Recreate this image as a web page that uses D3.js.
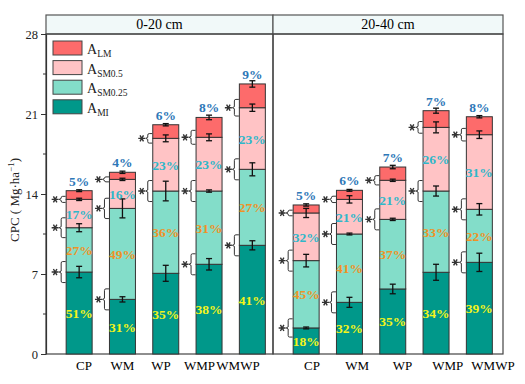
<!DOCTYPE html>
<html>
<head>
<meta charset="utf-8">
<script src="https://cdn.jsdelivr.net/npm/d3@7/dist/d3.min.js"></script>
<style>
  body { margin: 0; background: #fff; }
  text { font-family: "Liberation Serif", "DejaVu Serif", serif; }
</style>
</head>
<body>
<script>
// categories
let treatments = ["CP", "WM", "WP", "WMP", "WMWP"];
let depths = ["0-20 cm", "20-40 cm"];
let fractions = ["MI", "SM0.25", "SM0.5", "LM"];   // stacked bottom -> top
let legendOrder = ["LM", "SM0.5", "SM0.25", "MI"];
let yTicks = [0, 7, 14, 21, 28];

// CPC (Mg ha-1) per fraction, [depth][treatment]
let valMI   = [[7.17, 4.78, 7.06, 7.85, 9.51], [2.28, 4.52, 5.69, 7.15, 8.02]];
let valSM25 = [[3.88, 7.96, 7.20, 6.41, 6.65], [5.89, 5.98, 6.09, 7.11, 4.64]];
let valSM05 = [[2.48, 2.54, 4.61, 4.70, 5.39], [4.17, 3.03, 3.42, 5.57, 6.53]];
let valLM   = [[0.76, 0.62, 1.19, 1.74, 2.08], [0.70, 0.79, 1.16, 1.46, 1.57]];

// standard errors at segment tops
let errMI   = [[0.50, 0.23, 0.70, 0.50, 0.40], [0.08, 0.44, 0.42, 0.70, 0.80]];
let errSM25 = [[0.35, 0.83, 0.86, 0.10, 0.57], [0.55, 0.08, 0.10, 0.44, 0.50]];
let errSM05 = [[0.10, 0.10, 0.30, 0.30, 0.32], [0.40, 0.32, 0.10, 0.48, 0.33]];
let errLM   = [[0.08, 0.10, 0.10, 0.20, 0.28], [0.10, 0.08, 0.15, 0.22, 0.10]];

// percentage labels
let pctMI   = [["51%", "31%", "35%", "38%", "41%"], ["18%", "32%", "35%", "34%", "39%"]];
let pctSM25 = [["27%", "49%", "36%", "31%", "27%"], ["45%", "41%", "37%", "33%", "22%"]];
let pctSM05 = [["17%", "16%", "23%", "23%", "23%"], ["32%", "21%", "21%", "26%", "31%"]];
let pctLM   = [["5%", "4%", "6%", "8%", "9%"], ["5%", "6%", "7%", "7%", "8%"]];

// significance marks at boundaries MI|SM0.25, SM0.25|SM0.5, SM0.5|LM
let sig = [
  [[1, 1, 1], [1, 1, 1], [0, 1, 1], [1, 1, 1], [1, 1, 1]],
  [[1, 1, 1], [1, 1, 1], [0, 1, 1], [0, 1, 1], [1, 1, 1]]
];

let fill = {"LM": "#fd6b6b", "SM0.5": "#ffc3c5", "SM0.25": "#83ddc9", "MI": "#00988a"};
let pctColor = {"LM": "#2e78b8", "SM0.5": "#2fb7c9", "SM0.25": "#ef9226", "MI": "#f4f41a"};

let W = 525, H = 384;
let panels = [{x0: 46, w: 227, lab: [84, 238]}, {x0: 273, w: 230, lab: [312, 493]}];
let plotTop = 34, stripTop = 15, plotBottom = 354;

let svg = d3.select("body").append("svg")
    .attr("width", W)
    .attr("height", H);

let y = d3.scaleLinear().domain([0, 28]).range([plotBottom, plotTop]);
let star = d3.symbol(d3.symbolAsterisk, 34);

let vals = [valMI, valSM25, valSM05, valLM];
let errs = [errMI, errSM25, errSM05, errLM];
let pcts = [pctMI, pctSM25, pctSM05, pctLM];

panels.forEach(function(p, di) {
  let x = d3.scaleBand().domain(treatments)
      .range([p.x0 + 11.5, p.x0 + 228])
      .paddingInner(0.4).paddingOuter(0.2);
  let xl = d3.scalePoint().domain(treatments).range(p.lab);

  // strip
  svg.append("rect")
      .attr("x", p.x0).attr("y", stripTop)
      .attr("width", p.w).attr("height", plotTop - stripTop)
      .attr("fill", "#f1f9f9").attr("stroke", "#555").attr("stroke-width", 1.2);
  svg.append("text")
      .attr("x", p.x0 + p.w / 2).attr("y", plotTop - 5)
      .attr("text-anchor", "middle")
      .style("font-size", "14px")
      .text(depths[di]);

  // panel frame
  svg.append("rect")
      .attr("x", p.x0).attr("y", plotTop)
      .attr("width", p.w).attr("height", plotBottom - plotTop)
      .attr("fill", "none").attr("stroke", "#444").attr("stroke-width", 1.2);

  treatments.forEach(function(t, ti) {
    let bx = x(t), bw = x.bandwidth();
    let cum = 0, tops = [], heights = [];
    fractions.forEach(function(f, fi) {
      let v = vals[fi][di][ti];
      let y0 = y(cum), y1 = y(cum + v);
      tops.push(y1);
      heights.push(y0 - y1);
      svg.append("rect")
          .attr("x", bx).attr("y", y1)
          .attr("width", bw).attr("height", y0 - y1)
          .attr("fill", fill[f]).attr("stroke", "#333").attr("stroke-width", 1);
      cum += v;
    });

    // error bars
    let cum2 = 0;
    fractions.forEach(function(f, fi) {
      cum2 += vals[fi][di][ti];
      let e = errs[fi][di][ti];
      let cx = bx + bw / 2;
      let ya = y(cum2 + e), yb = y(cum2 - e);
      let g = svg.append("g").attr("stroke", "#111").attr("stroke-width", 1.3);
      g.append("line").attr("x1", cx).attr("x2", cx).attr("y1", ya).attr("y2", yb);
      g.append("line").attr("x1", cx - 3).attr("x2", cx + 3).attr("y1", ya).attr("y2", ya);
      g.append("line").attr("x1", cx - 3).attr("x2", cx + 3).attr("y1", yb).attr("y2", yb);
    });

    // percent labels
    fractions.forEach(function(f, fi) {
      let txt = svg.append("text")
          .attr("x", bx + bw / 2)
          .attr("text-anchor", "middle")
          .style("font-size", "13.5px")
          .style("font-weight", "bold")
          .attr("fill", pctColor[f])
          .text(pcts[fi][di][ti]);
      if (f === "LM") {
        txt.attr("y", tops[3] - 5);
      } else {
        txt.attr("y", tops[fi] + heights[fi] / 2 + 5);
      }
    });

    // significance brackets
    sig[di][ti].forEach(function(s, bi) {
      if (!s) return;
      let yb = tops[bi];
      let h = Math.min(10.5, 0.35 * Math.min(heights[bi], heights[bi + 1]));
      let xv = bx - 5, xr = bx - 0.5;
      svg.append("path")
          .attr("d", "M" + xr + "," + (yb - h) + " L" + (xv + 1.5) + "," + (yb - h) +
                " Q" + xv + "," + (yb - h) + " " + xv + "," + (yb - h + 1.5) +
                " L" + xv + "," + (yb - 1) + " L" + (xv - 2) + "," + yb + " L" + xv + "," + (yb + 1) +
                " L" + xv + "," + (yb + h - 1.5) +
                " Q" + xv + "," + (yb + h) + " " + (xv + 1.5) + "," + (yb + h) +
                " L" + xr + "," + (yb + h))
          .attr("fill", "none").attr("stroke", "#333").attr("stroke-width", 1);
      svg.append("path")
          .attr("d", star())
          .attr("transform", "translate(" + (xv - 6) + "," + yb + ") rotate(90)")
          .attr("fill", "none").attr("stroke", "#333").attr("stroke-width", 1.4);
    });
  });

  // x labels
  svg.selectAll(null).data(treatments).enter().append("text")
      .attr("x", function(d) { return xl(d); })
      .attr("y", 370)
      .attr("text-anchor", "middle")
      .style("font-size", "13px")
      .text(function(d) { return d; });
});

// y axis
let yAxis = d3.axisLeft(y).tickValues(yTicks).tickSize(5).tickSizeOuter(0);
let gy = svg.append("g")
    .attr("transform", "translate(46,0)")
    .call(yAxis);
gy.select(".domain").attr("stroke", "#333").attr("stroke-width", 1.2);
gy.selectAll(".tick line").attr("stroke", "#333");
gy.selectAll(".tick text")
    .style("font-family", "Liberation Serif, serif")
    .style("font-size", "12.5px")
    .attr("fill", "#222");
let minorTicks = d3.range(3.5, 28, 7);
gy.selectAll(".minor").data(minorTicks).enter().append("line")
    .attr("x1", -3).attr("x2", 0)
    .attr("y1", function(d) { return y(d); })
    .attr("y2", function(d) { return y(d); })
    .attr("stroke", "#333");

// y title
let yt = svg.append("text")
    .attr("transform", "translate(19," + ((plotTop + plotBottom) / 2 + 6) + ") rotate(-90)")
    .attr("text-anchor", "middle")
    .style("font-size", "13px")
    .attr("fill", "#222");
yt.append("tspan").text("CPC ( Mg\u00b7ha");
yt.append("tspan").attr("dy", -5).style("font-size", "9px").text("\u22121");
yt.append("tspan").attr("dy", 5).text(")");

// legend
let lg = svg.append("g").attr("transform", "translate(53,41)");
legendOrder.forEach(function(f, i) {
  let gi = lg.append("g").attr("transform", "translate(0," + (i * 19.6) + ")");
  gi.append("rect")
      .attr("width", 29).attr("height", 14)
      .attr("fill", fill[f]).attr("stroke", "#444").attr("stroke-width", 1);
  let t = gi.append("text").attr("x", 34).attr("y", 13).style("font-size", "14px").attr("fill", "#222");
  t.append("tspan").text("A");
  t.append("tspan").attr("dy", 3).style("font-size", "9.5px").text(f);
});
</script>
</body>
</html>
